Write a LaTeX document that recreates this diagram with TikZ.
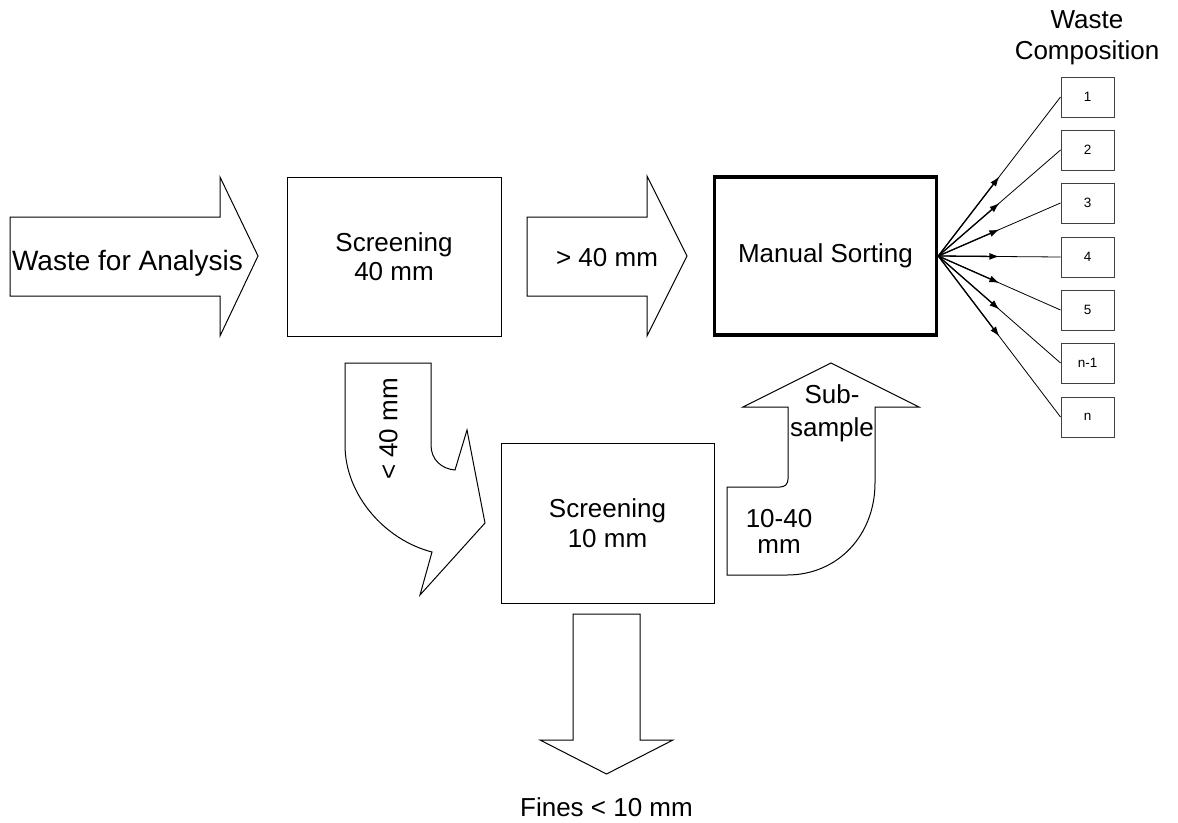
\documentclass[tikz,border=0pt]{standalone}
\usepackage{fontspec}
\setmainfont{Liberation Sans}
\usetikzlibrary{arrows.meta,calc}
\begin{document}
\begin{tikzpicture}[x=1pt,y=-1pt,
  lbl/.style={font=\fontsize{26}{29.5}\selectfont, align=center, inner sep=0pt},
  box/.style={draw=black, line width=1pt, fill=white, inner sep=0pt, font=\fontsize{26}{29.5}\selectfont, align=center},
  blockarrow/.style={draw=black, line width=1pt, fill=white, line join=miter},
  compbox/.style={draw=black!75, line width=1pt, fill=white, minimum width=53pt, minimum height=40pt, inner sep=0pt, font=\fontsize{13.5}{16}\selectfont},
  fanline/.style={line width=0.8pt},
  fanhalf/.style={line width=1.3pt, -{Latex[length=10pt,width=7pt]}}
]
\fill[white] (0,0) rectangle (1178,822);
\useasboundingbox (0,0) rectangle (1178,822);

% block arrow: waste for analysis
\draw[blockarrow] (10,217) -- (220,217) -- (220,177) -- (258,256) -- (220,336) -- (220,296) -- (10,296) -- cycle;
\node[lbl, font=\fontsize{28}{32}\selectfont, anchor=base] (wfa) at (127.5,270.5) {Waste for Analysis};

% screening 40
\node[box, minimum width=214pt, minimum height=159pt] (scr40) at (394,256.5) {Screening\\40 mm};

% block arrow > 40 mm
\draw[blockarrow] (527,217) -- (647,217) -- (647,176) -- (687,256) -- (647,336) -- (647,296) -- (527,296) -- cycle;
\node[lbl, anchor=base] (gt40) at (607,266) {> 40 mm};

% manual sorting
\node[box, line width=3.5pt, minimum width=222pt, minimum height=158pt] (sort) at (825.5,256) {Manual Sorting};

% curved arrow < 40 mm
\draw[blockarrow] (345,363) -- (431,363) -- (431,445) .. controls (431,460) and (442,469) .. (455,470) -- (467,430) -- (485,523) -- (420,595) -- (432,552) .. controls (385,540) and (345,495) .. (345,445) -- cycle;
\node[lbl, rotate=90] (lt40) at (388.5,429) {< 40 mm};

% screening 10
\node[box, minimum width=213pt, minimum height=160pt] (scr10) at (607.5,523) {Screening\\10 mm};

% bent-up arrow sub-sample
\draw[blockarrow] (727,575) -- (727,487) -- (780,487) .. controls (785,487) and (788,484) .. (788,479) -- (788,407) -- (743,407) -- (831,363) -- (919,407) -- (875,407) -- (875,483) .. controls (875,535) and (838,575) .. (787,575) -- cycle;
\node[lbl] (sub) at (832,412.8) {Sub-\\[3.5pt]sample};
\node[lbl] (r1040) at (779,531.7) {10-40\\[-3.5pt]mm};

% fines arrow
\draw[blockarrow] (573,614) -- (640,614) -- (640,740) -- (673,740) -- (606.5,774) -- (540,740) -- (573,740) -- cycle;
\node[lbl, anchor=base] (fines) at (606.5,816.5) {Fines < 10 mm};

% title
\node[lbl, font=\fontsize{26}{31}\selectfont] (title) at (1087,37.4) {Waste\\Composition};

% composition boxes
\node[compbox] (c1) at (1087.5,97) {1};
\node[compbox] (c2) at (1087.5,150) {2};
\node[compbox] (c3) at (1087.5,203) {3};
\node[compbox] (c4) at (1087.5,257) {4};
\node[compbox] (c5) at (1087.5,310) {5};
\node[compbox] (c6) at (1087.5,363) {n-1};
\node[compbox] (c7) at (1087.5,417) {n};

\foreach \i in {1,...,7} {
  \draw[fanline] (sort.east) -- (c\i.west);
  \draw[fanhalf] (sort.east) -- ($(sort.east)!0.5!(c\i.west)$);
}
\end{tikzpicture}
\end{document}
